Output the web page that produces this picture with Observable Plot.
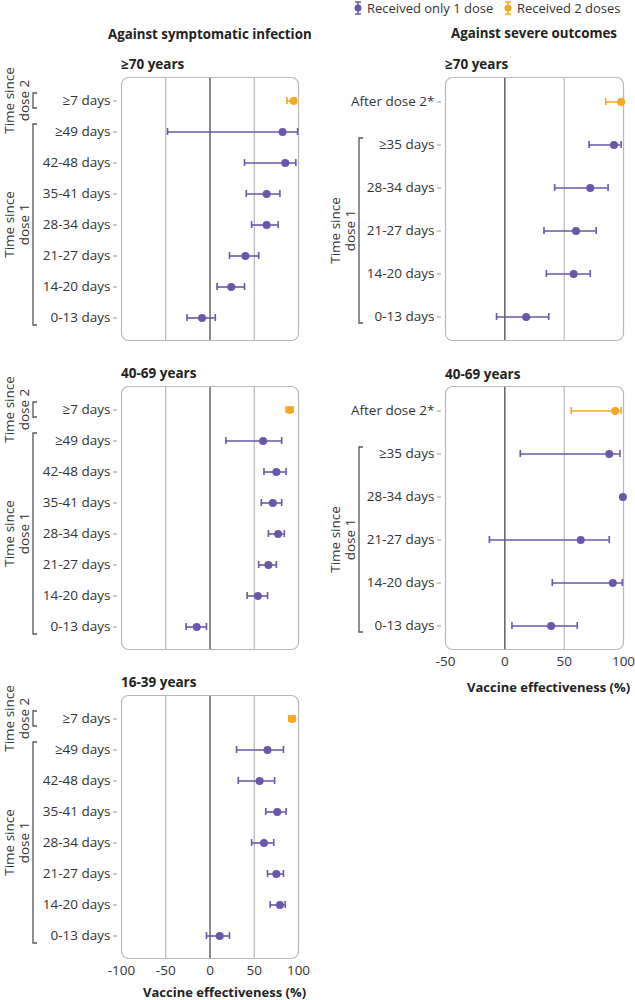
<!DOCTYPE html>
<html><head><meta charset="utf-8">
<script src="https://cdn.jsdelivr.net/npm/d3@7"></script>
<script src="https://cdn.jsdelivr.net/npm/@observablehq/plot@0.6"></script>
<style>
body{margin:0;background:#fff;}
#root{position:relative;width:635px;height:1000px;font-family:"Open Sans",sans-serif;color:#222;overflow:hidden;}
.abs{position:absolute;white-space:nowrap;line-height:16px;}
.hdr{font-weight:700;font-size:13.3px;color:#222;}
.ttl{font-weight:700;font-size:13.5px;color:#222;}
.axt{font-weight:700;font-size:13px;color:#222;}
.leg{font-size:13px;color:#333;display:flex;align-items:center;}
.leg svg{margin-right:5px;}
</style></head><body><div id="root"></div>
<script>
// ---------- data ----------
const symRows = ["≥7 days", "≥49 days", "42-48 days", "35-41 days", "28-34 days", "21-27 days", "14-20 days", "0-13 days"];
const symDose = [2, 1, 1, 1, 1, 1, 1, 1];
const sym70Est = [94.5, 82, 85, 64, 64, 40, 24, -9];
const sym70Lo  = [87, -48, 39, 41, 47, 22, 8, -26];
const sym70Hi  = [97, 99, 97, 79, 77, 55, 39, 6];
const sym4069Est = [90, 60, 75, 71, 77, 66, 54, -15];
const sym4069Lo  = [86, 18, 61, 58, 66, 55, 42, -27];
const sym4069Hi  = [94, 81, 86, 81, 84, 75, 65, -4];
const sym1639Est = [93, 65, 56, 76, 61, 75, 79, 11];
const sym1639Lo  = [89, 30, 32, 63, 47, 65, 68, -4];
const sym1639Hi  = [96, 83, 73, 86, 72, 83, 85, 22];

const sevRows = ["After dose 2*", "≥35 days", "28-34 days", "21-27 days", "14-20 days", "0-13 days"];
const sevDose = [2, 1, 1, 1, 1, 1];
const sev70Est = [98, 92, 72, 60, 58, 18];
const sev70Lo  = [85, 71, 42, 33, 35, -7];
const sev70Hi  = [99.5, 98, 87, 77, 72, 37];
const sev4069Est = [93, 88, 99.5, 64, 91, 39];
const sev4069Lo  = [56, 13, null, -13, 40, 6];
const sev4069Hi  = [98, 97, null, 88, 99, 61];

const symTicks = [-100, -50, 0, 50, 100];
const sevTicks = [-50, 0, 50, 100];
const legendLabels = ["Received only 1 dose", "Received 2 doses"];

const PURPLE = "#6a57a9";
const ORANGE = "#f7a823";
const FONT = "'Open Sans', sans-serif";

const root = document.getElementById("root");

function addText(cls, txt, left, top) {
  const d = document.createElement("div");
  d.className = "abs " + cls;
  d.textContent = txt;
  d.style.left = left + "px";
  d.style.top = top + "px";
  root.appendChild(d);
  return d;
}

function legendIcon(color) {
  return `<svg width="8" height="16" viewBox="0 0 8 16"><line x1="4" x2="4" y1="2" y2="14" stroke="${color}" stroke-width="1.5"/><line x1="1" x2="7" y1="2" y2="2" stroke="${color}" stroke-width="1.5"/><line x1="1" x2="7" y1="14" y2="14" stroke="${color}" stroke-width="1.5"/><circle cx="4" cy="8" r="3.5" fill="${color}"/></svg>`;
}
addText("leg", "", 354, 0).innerHTML = legendIcon(PURPLE) + legendLabels[0];
addText("leg", "", 504, 0).innerHTML = legendIcon(ORANGE) + legendLabels[1];

addText("hdr", "Against symptomatic infection", 108, 26);
addText("hdr", "Against severe outcomes", 451, 25);
addText("ttl", "≥70 years", 121, 56);
addText("ttl", "40-69 years", 121, 365);
addText("ttl", "16-39 years", 121, 674);
addText("ttl", "≥70 years", 445, 56);
addText("ttl", "40-69 years", 445, 366);
addText("axt", "Vaccine effectiveness (%)", 143, 984);
addText("axt", "Vaccine effectiveness (%)", 467, 679);

function panel(o) {
  const data = o.rows.map((r, i) => ({row: r, dose: o.dose[i], est: o.est[i], lo: o.lo[i], hi: o.hi[i]}));
  const n = o.rows.length;
  const H = o.height - o.mt - o.mb;
  const step = H / (n - 1 + 2 * o.padding);
  const capH = 7;
  const pi = 1 - capH / step;             // band only as tall as an error-bar cap
  const po = o.padding - (1 - pi) / 2;
  const marks = [
    Plot.ruleX(o.light, {stroke: "#a9a9a9", strokeWidth: 1}),
    Plot.ruleX([0], {stroke: "#4a4a4a", strokeWidth: 1.3}),
    Plot.frame({stroke: "#b8b8b8", strokeWidth: 1.2, rx: 7}),
    Plot.axisY({tickSize: 4, tickPadding: 3, dx: -4, label: null, stroke: "#999", fill: "#333", fontSize: 13.5})
  ];
  for (const [dz, col] of [[1, PURPLE], [2, ORANGE]]) {
    const sub = data.filter(d => d.dose === dz);
    const ci = sub.filter(d => d.lo != null);
    marks.push(
      Plot.ruleY(ci, {y: "row", x1: "lo", x2: "hi", stroke: col, strokeWidth: 1.6}),
      Plot.tickX(ci, {x: "lo", y: "row", stroke: col, strokeWidth: 1.6}),
      Plot.tickX(ci, {x: "hi", y: "row", stroke: col, strokeWidth: 1.6}),
      Plot.dot(sub, {x: "est", y: "row", r: 4, fill: col})
    );
  }
  if (o.xAxis) marks.push(Plot.axisX({ticks: o.ticks, tickSize: 0, tickPadding: 7, label: null, fill: "#333", fontSize: 13.5, tickFormat: d => String(d)}));
  const chart = Plot.plot({
    width: o.width, height: o.height,
    marginTop: o.mt, marginBottom: o.mb, marginLeft: o.ml, marginRight: o.mr,
    style: {fontFamily: FONT, fontSize: "13px", background: "transparent", overflow: "visible"},
    x: {domain: o.domain, axis: null},
    y: {type: "band", domain: o.rows, paddingInner: pi, paddingOuter: po, align: 0.5, axis: null},
    marks
  });
  chart.style.position = "absolute";
  chart.style.left = o.left + "px";
  chart.style.top = o.top + "px";
  root.appendChild(chart);

  const ys = chart.scale("y");
  const bw = ys.bandwidth || 0;
  const svg = d3.select(chart);
  for (const b of o.brackets) {
    const y1 = ys.apply(b.from) + bw / 2 - b.ext, y2 = ys.apply(b.to) + bw / 2 + b.ext;
    svg.append("path")
      .attr("d", `M${b.x + 4},${y1}H${b.x}V${y2}H${b.x + 4}`)
      .attr("fill", "none").attr("stroke", "#555").attr("stroke-width", 1.3);
    const cy = (y1 + y2) / 2;
    const t = svg.append("text")
      .attr("transform", `translate(${b.x - 15},${cy}) rotate(-90)`)
      .attr("text-anchor", "middle")
      .attr("fill", "#333")
      .style("font-family", FONT).style("font-size", "13.5px");
    t.append("tspan").attr("x", 0).attr("dy", "-0.3em").text("Time since");
    t.append("tspan").attr("x", 0).attr("dy", "1.12em").text(b.label);
  }
  return chart;
}

const leftBr = [
  {from: "≥7 days", to: "≥7 days", ext: 7.5, x: 33, label: "dose 2"},
  {from: "≥49 days", to: "0-13 days", ext: 7.5, x: 33, label: "dose 1"}
];
const rightBr = [
  {from: "≥35 days", to: "0-13 days", ext: 6.5, x: 39, label: "dose 1"}
];
const L = {width: 320, ml: 121, mr: 22, domain: [-100, 100], light: [-50, 50], ticks: symTicks, rows: symRows, dose: symDose, padding: 0.7, brackets: leftBr};
const R = {width: 315, ml: 125, mr: 12, domain: [-50, 100], light: [50], ticks: sevTicks, rows: sevRows, dose: sevDose, padding: 0.5, brackets: rightBr};

panel({...L, left: 0, top: 70, height: 277, mt: 7, mb: 7, est: sym70Est, lo: sym70Lo, hi: sym70Hi});
panel({...L, left: 0, top: 379, height: 277, mt: 7, mb: 7, est: sym4069Est, lo: sym4069Lo, hi: sym4069Hi});
panel({...L, left: 0, top: 688, height: 312, mt: 7, mb: 42, est: sym1639Est, lo: sym1639Lo, hi: sym1639Hi, xAxis: true});
panel({...R, left: 320, top: 70, height: 277, mt: 7, mb: 7, est: sev70Est, lo: sev70Lo, hi: sev70Hi});
panel({...R, left: 320, top: 379, height: 300, mt: 7, mb: 30, est: sev4069Est, lo: sev4069Lo, hi: sev4069Hi, xAxis: true});
</script></body></html>
